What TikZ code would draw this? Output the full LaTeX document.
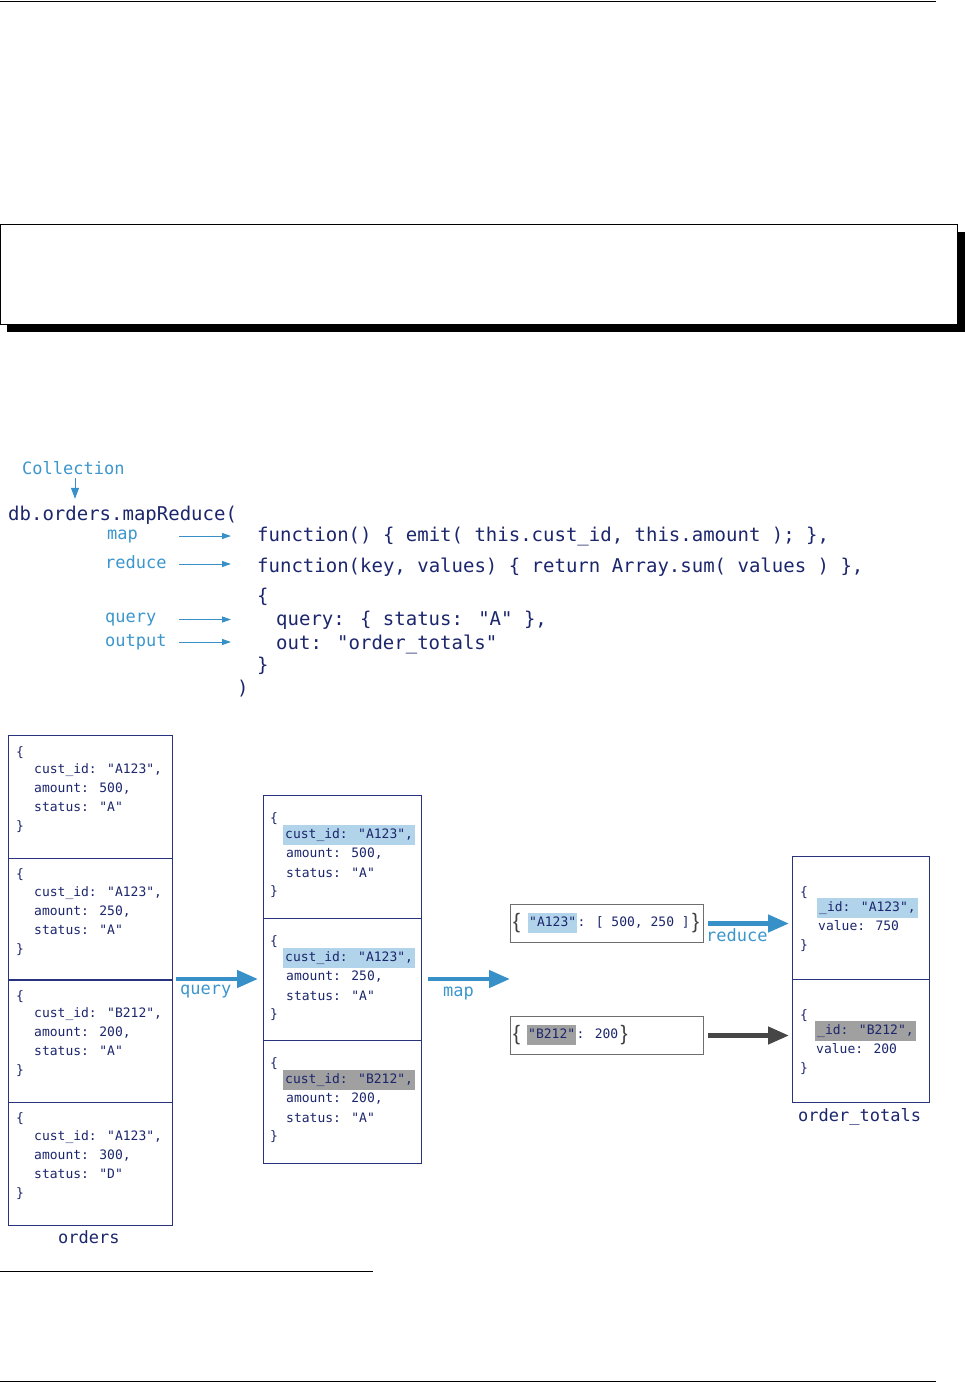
\documentclass[tikz,border=0pt]{standalone}
\usepackage{fontspec}
\usetikzlibrary{arrows.meta,calc}
\newfontfamily\codefont{DejaVu Sans Mono}
\newfontfamily\bracefont{Liberation Sans}
\definecolor{navy}{RGB}{28,38,108}
\definecolor{mblue}{RGB}{56,144,200}
\definecolor{lblue}{RGB}{60,150,205}
\definecolor{hlblue}{RGB}{178,212,234}
\definecolor{hlgray}{RGB}{160,160,160}
\definecolor{boxline}{RGB}{40,50,125}
\definecolor{sbox}{RGB}{110,110,110}
\definecolor{darkarrow}{RGB}{70,70,70}
\tikzset{
 code/.style={anchor=west,inner sep=0pt,text=navy,font=\codefont\fontsize{19}{19}\selectfont,text height=14pt,text depth=4pt},
 lbl/.style={anchor=west,inner sep=0pt,text=lblue,font=\codefont\fontsize{17}{17}\selectfont,text height=12.5pt,text depth=3.5pt},
 title/.style={lbl,text=navy},
 doc/.style={anchor=west,inner sep=0pt,text=navy,font=\codefont\fontsize{13}{13}\selectfont,text height=10pt,text depth=3pt},
 hl/.style={doc,fill=hlblue,inner xsep=2pt,inner ysep=3.5pt},
 hg/.style={doc,fill=hlgray,inner xsep=2pt,inner ysep=3.5pt},
 bracetxt/.style={anchor=west,inner sep=0pt,text=black!75,font=\bracefont\fontsize{21}{21}\selectfont,text height=15pt,text depth=4pt},
 docbox/.style={draw=boxline,line width=1pt,anchor=north west,inner sep=0pt},
 smallbox/.style={draw=sbox,line width=1pt,anchor=north west,inner sep=0pt,minimum width=193pt,minimum height=38pt},
 thinarrow/.style={draw=mblue,line width=1pt,-{Triangle[length=9pt,width=6pt]}},
 collarrow/.style={draw=mblue,line width=1pt,-{Triangle[length=11pt,width=8pt]}},
 bigarrow/.style={draw=mblue,line width=4.5pt,-{Triangle[length=21pt,width=17pt]}},
 grayarrow/.style={draw=darkarrow,line width=4.5pt,-{Triangle[length=21pt,width=17pt]}}
}
% orders document
\newcommand{\orderdoc}[4]{%
 \node[doc] (#1-o) at ($(#1.north west)+(8,17.5)$) {\{};
 \node[doc] (#1-i) at ($(#1.north west)+(26,35)$) {cust\_id: "#2",};
 \node[doc] (#1-a) at ($(#1.north west)+(26,54)$) {amount: #3,};
 \node[doc] (#1-s) at ($(#1.north west)+(26,73)$) {status: "#4"};
 \node[doc] (#1-c) at ($(#1.north west)+(8,92)$) {\}};
}
% queried document
\newcommand{\middoc}[5]{%
 \node[doc] (#1-o) at ($(#1.north west)+(7,24)$) {\{};
 \node[#5] (#1-i) at ($(#1.north west)+(20,40)$) {cust\_id: "#2",};
 \node[doc] (#1-a) at ($(#1.north west)+(23,59)$) {amount: #3,};
 \node[doc] (#1-s) at ($(#1.north west)+(23,79)$) {status: "#4"};
 \node[doc] (#1-c) at ($(#1.north west)+(7,97)$) {\}};
}
% result document
\newcommand{\totdoc}[5]{%
 \node[doc] (#1-o) at ($(#1.north west)+(8,37)$) {\{};
 \node[#5] (#1-i) at ($(#1.north west)+(#4,52)$) {\_id: "#2",};
 \node[doc] (#1-v) at ($(#1.north west)+(#4+1,71)$) {value: #3};
 \node[doc] (#1-c) at ($(#1.north west)+(8,90)$) {\}};
}
\begin{document}
\begin{tikzpicture}[x=1pt,y=-1pt]
\useasboundingbox (0,0) rectangle (965,1382);
% page furniture
\draw[line width=1pt] (0,1) -- (936,1);
\fill[black] (7,232) rectangle (965,332);
\draw[line width=1pt,fill=white] (0.5,224) rectangle (957,324);
\draw[line width=1pt] (0,1271) -- (373,1271);
\draw[line width=1pt] (0,1381) -- (936,1381);

% ---------- command ----------
\node[lbl] (coll) at (22,470) {Collection};
\node[code] (db) at (8,515.5) {db.orders.mapReduce(};
\draw[collarrow,shorten >=7.5pt] (coll.south -| 75,0) -- (db.north -| 75,0);

\node[lbl] (lmap) at (107,535) {map};
\node[lbl] (lred) at (105,564) {reduce};
\node[lbl] (lq) at (105,618) {query};
\node[lbl] (lo) at (105,642) {output};

\node[code] (fn1) at (257,536) {function() \{ emit( this.cust\_id, this.amount ); \},};
\node[code] (fn2) at (257,567.5) {function(key, values) \{ return Array.sum( values ) \},};
\node[code] (ob) at (257,597) {\{};
\node[code] (qr) at (276,620) {query: \{ status: "A" \},};
\node[code] (ou) at (276,644) {out: "order\_totals"};
\node[code] (cb) at (257,666) {\}};
\node[code] (cp) at (237,689) {)};

\coordinate (amap) at (179,536);
\coordinate (ared) at (179,564);
\coordinate (aq) at (179,619.5);
\coordinate (ao) at (179,642);
\draw[thinarrow,shorten >=26pt] (amap) -- (amap -| fn1.west);
\draw[thinarrow,shorten >=26pt] (ared) -- (ared -| fn2.west);
\draw[thinarrow,shorten >=26pt] (aq) -- (aq -| ob.west);
\draw[thinarrow,shorten >=26pt] (ao) -- (ao -| ob.west);

% ---------- orders collection ----------
\node[docbox,minimum width=164pt,minimum height=122.5pt] (o1) at (8,735) {};
\node[docbox,minimum width=164pt,minimum height=122.5pt] (o2) at (8,857.5) {};
\node[docbox,minimum width=164pt,minimum height=122.5pt] (o3) at (8,979) {};
\node[docbox,minimum width=164pt,minimum height=123.5pt] (o4) at (8,1101.5) {};
\orderdoc{o1}{A123}{500}{A}
\orderdoc{o2}{A123}{250}{A}
\orderdoc{o3}{B212}{200}{A}
\orderdoc{o4}{A123}{300}{D}
\node[title] (ordlbl) at (58,1239) {orders};

% ---------- after query ----------
\node[docbox,minimum width=158pt,minimum height=122.7pt] (m1) at (263,795) {};
\node[docbox,minimum width=158pt,minimum height=122.7pt] (m2) at (263,917.7) {};
\node[docbox,minimum width=158pt,minimum height=122.7pt] (m3) at (263,1040.4) {};
\middoc{m1}{A123}{500}{A}{hl}
\middoc{m2}{A123}{250}{A}{hl}
\middoc{m3}{B212}{200}{A}{hg}

\draw[bigarrow,shorten <=3pt,shorten >=5pt] (o3.north east) -- (o3.north east -| m2.west);
\node[lbl] (lquery) at (180,990) {query};

% ---------- after map ----------
\node[smallbox] (ka) at (510,904) {};
\node[smallbox] (kb) at (510,1016) {};
\node[bracetxt] (ka-o) at (513,923) {\{};
\node[hl,inner xsep=1pt] (ka-k) at (528,923) {"A123"};
\node[doc] (ka-v) at (ka-k.east) {: [ 500, 250 ]};
\node[bracetxt] (ka-c) at ($(ka-v.east)+(2,0)$) {\}};
\node[bracetxt] (kb-o) at (513,1035) {\{};
\node[hg,inner xsep=1pt] (kb-k) at (527,1035) {"B212"};
\node[doc] (kb-v) at (kb-k.east) {: 200};
\node[bracetxt] (kb-c) at ($(kb-v.east)+(2,0)$) {\}};

\coordinate (mapend) at (510,979);
\draw[bigarrow,shorten <=6pt] (m2.east |- mapend) -- (mapend);
\node[lbl] (lmap2) at (443,992) {map};

% ---------- order_totals ----------
\node[docbox,minimum width=137pt,minimum height=123pt] (t1) at (792,856) {};
\node[docbox,minimum width=137pt,minimum height=123pt] (t2) at (792,979) {};
\totdoc{t1}{A123}{750}{25}{hl}
\totdoc{t2}{B212}{200}{23}{hg}
\node[title] (totlbl) at (798,1117) {order\_totals};

\draw[bigarrow,shorten <=4pt,shorten >=3pt] (ka.east) -- (ka.east -| t1.west);
\node[lbl] (lred2) at (706,937) {reduce};
\draw[grayarrow,shorten <=4pt,shorten >=3pt] (kb.east) -- (kb.east -| t2.west);
\end{tikzpicture}
\end{document}
